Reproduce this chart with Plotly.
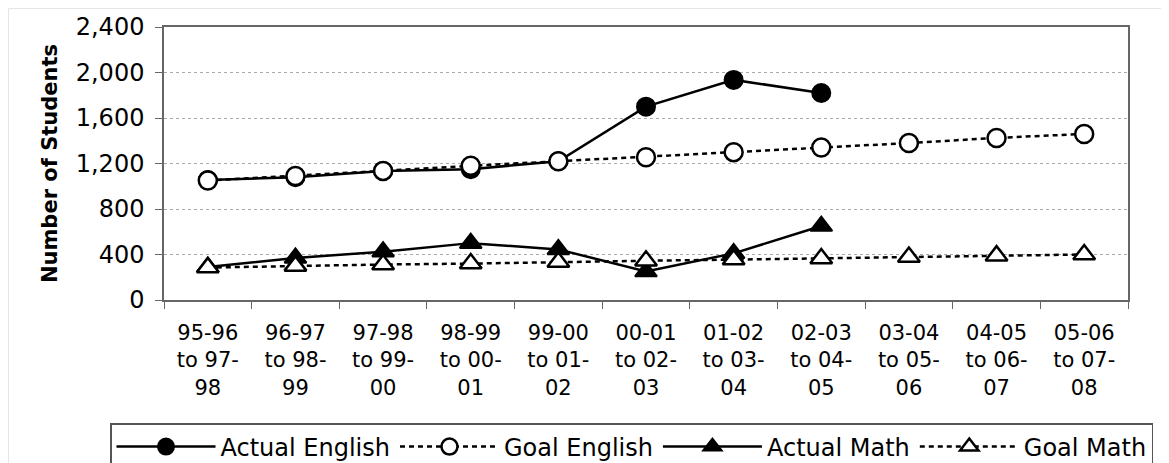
import plotly.graph_objects as go

categories = ["95-96<br>to 97-<br>98", "96-97<br>to 98-<br>99", "97-98<br>to 99-<br>00",
              "98-99<br>to 00-<br>01", "99-00<br>to 01-<br>02", "00-01<br>to 02-<br>03",
              "01-02<br>to 03-<br>04", "02-03<br>to 04-<br>05", "03-04<br>to 05-<br>06",
              "04-05<br>to 06-<br>07", "05-06<br>to 07-<br>08"]

actual_english = [1055, 1080, 1135, 1150, 1220, 1700, 1935, 1820]
goal_english = [1050, 1090, 1135, 1180, 1220, 1255, 1300, 1340, 1380, 1425, 1460]
actual_math = [290, 370, 425, 500, 445, 250, 410, 650]
goal_math = [285, 300, 312, 320, 335, 345, 355, 365, 378, 390, 400]

FONT = "DejaVu Sans, Verdana, sans-serif"
# page body has an 8px default margin, so the figure is drawn 8px in from the window edge
OFF = 8
W, H = 1169 - OFF, 463 - OFF
ML, MT = 164 - OFF, 27 - OFF
MR = W - (1128 - OFF)
MB = H - (300 - OFF)
PW, PH = W - ML - MR, H - MT - MB

fig = go.Figure()
common = dict(mode="lines+markers", cliponaxis=False)
fig.add_trace(go.Scatter(x=categories[:len(actual_english)], y=actual_english, name="Actual English",
                         line=dict(color="black", width=2.5),
                         marker=dict(symbol="circle", size=18, color="black",
                                     line=dict(color="black", width=2)), **common))
fig.add_trace(go.Scatter(x=categories, y=goal_english, name="Goal English",
                         line=dict(color="black", width=2.5, dash="5px,4px"),
                         marker=dict(symbol="circle", size=18, color="white",
                                     line=dict(color="black", width=2.5)), **common))
fig.add_trace(go.Scatter(x=categories[:len(actual_math)], y=actual_math, name="Actual Math",
                         line=dict(color="black", width=2.5),
                         marker=dict(symbol="triangle-up", size=19, color="black",
                                     line=dict(color="black", width=2)), **common))
fig.add_trace(go.Scatter(x=categories, y=goal_math, name="Goal Math",
                         line=dict(color="black", width=2.5, dash="5px,4px"),
                         marker=dict(symbol="triangle-up", size=19, color="white",
                                     line=dict(color="black", width=2.5)), **common))

fig.update_layout(
    width=W, height=H,
    margin=dict(l=ML, r=MR, t=MT, b=MB, autoexpand=False),
    paper_bgcolor="white", plot_bgcolor="white",
    font=dict(family=FONT, color="black"),
    showlegend=True,
    legend=dict(orientation="h", xref="paper", yref="paper",
                x=((110 - OFF) - ML) / PW, xanchor="left",
                y=1 - ((423 - OFF) - MT) / PH, yanchor="top",
                bordercolor="#555", borderwidth=1.5, bgcolor="white",
                font=dict(size=24, family=FONT, color="black"),
                itemwidth=99, tracegroupgap=0),
    xaxis=dict(type="category", tickson="boundaries", ticks="outside", ticklen=7,
               tickcolor="#666", showline=True, linecolor="#666", linewidth=1.5,
               mirror=True, showgrid=False, tickfont=dict(size=21, family=FONT),
               range=[-0.5, len(categories) - 0.5], tickangle=0, ticklabelstandoff=13),
    yaxis=dict(range=[0, 2400], dtick=400, tickformat=",", ticks="outside", ticklen=7,
               tickcolor="#666", showline=True, linecolor="#666", linewidth=1.5,
               mirror=True, showgrid=True, gridcolor="#aaa", griddash="dot", gridwidth=1,
               zeroline=False, tickfont=dict(size=24, family=FONT),
               title=dict(text="<b>Number of Students</b>", font=dict(size=21, family=FONT),
                          standoff=12),
               ticklabelstandoff=6),
)

fig.add_shape(type="rect", xref="paper", yref="paper",
              x0=(0.5 - ML) / PW, x1=(W + 5 - ML) / PW,
              y0=-(H + 5 - MT - PH) / PH, y1=(PH + MT - 0.5) / PH,
              line=dict(color="#e6e6e6", width=1), layer="below")

fig.write_html("out.html")
